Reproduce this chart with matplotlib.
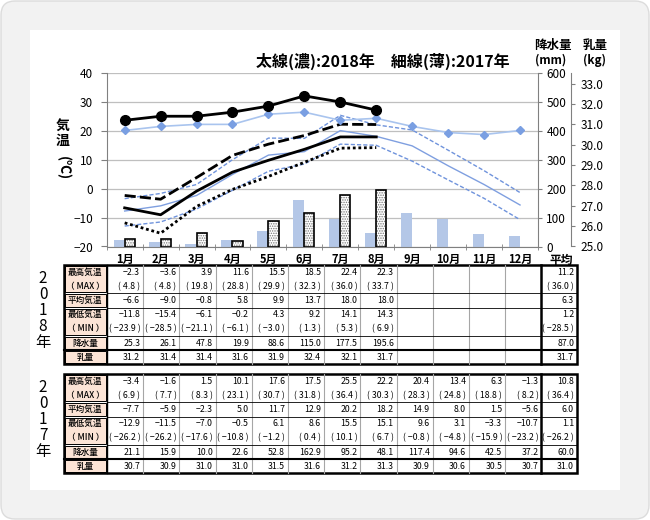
import numpy as np
import matplotlib
matplotlib.use("Agg")
import matplotlib.pyplot as plt
from matplotlib.patches import Rectangle, FancyBboxPatch

plt.rcParams['font.family'] = ['Noto Sans CJK JP', 'DejaVu Sans']
plt.rcParams['hatch.linewidth'] = 0.7

# ---- data ----
months = ["1月", "2月", "3月", "4月", "5月", "6月", "7月", "8月", "9月", "10月", "11月", "12月"]

# 2018 (Jan-Aug)
max18 = [-2.3, -3.6, 3.9, 11.6, 15.5, 18.5, 22.4, 22.3]
maxabs18 = [4.8, 4.8, 19.8, 28.8, 29.9, 32.3, 36.0, 33.7]
mean18 = [-6.6, -9.0, -0.8, 5.8, 9.9, 13.7, 18.0, 18.0]
min18 = [-11.8, -15.4, -6.1, -0.2, 4.3, 9.2, 14.1, 14.3]
minabs18 = [-23.9, -28.5, -21.1, -6.1, -3.0, 1.3, 5.3, 6.9]
prec18 = [25.3, 26.1, 47.8, 19.9, 88.6, 115.0, 177.5, 195.6]
milk18 = [31.2, 31.4, 31.4, 31.6, 31.9, 32.4, 32.1, 31.7]
avg18 = [11.2, 36.0, 6.3, 1.2, -28.5, 87.0, 31.7]

# 2017
max17 = [-3.4, -1.6, 1.5, 10.1, 17.6, 17.5, 25.5, 22.2, 20.4, 13.4, 6.3, -1.3]
maxabs17 = [6.9, 7.7, 8.3, 23.1, 30.7, 31.8, 36.4, 30.3, 28.3, 24.8, 18.8, 8.2]
mean17 = [-7.7, -5.9, -2.3, 5.0, 11.7, 12.9, 20.2, 18.2, 14.9, 8.0, 1.5, -5.6]
min17 = [-12.9, -11.5, -7.0, -0.5, 6.1, 8.6, 15.5, 15.1, 9.6, 3.1, -3.3, -10.7]
minabs17 = [-26.2, -26.2, -17.6, -10.8, -1.2, 0.4, 10.1, 6.7, -0.8, -4.8, -15.9, -23.2]
prec17 = [21.1, 15.9, 10.0, 22.6, 52.8, 162.9, 95.2, 48.1, 117.4, 94.6, 42.5, 37.2]
milk17 = [30.7, 30.9, 31.0, 31.0, 31.5, 31.6, 31.2, 31.3, 30.9, 30.6, 30.5, 30.7]
avg17 = [10.8, 36.4, 6.0, 1.1, -26.2, 60.0, 31.0]

row_labels = ["最高気温", "（ MAX ）", "平均気温", "最低気温", "（ MIN ）", "降水量", "乳量"]

W, H = 650, 520
fig = plt.figure(figsize=(6.5, 5.2), dpi=100)

# background / table layer in pixel coords
bg = fig.add_axes([0, 0, 1, 1], zorder=-5)
bg.set_xlim(0, W)
bg.set_ylim(H, 0)
bg.axis("off")
bg.add_patch(FancyBboxPatch((1, 1), W - 2, H - 2, boxstyle="round,pad=0,rounding_size=14",
                            fc="#f2f2f2", ec="#dcdcdc", lw=1))
bg.add_patch(Rectangle((30, 30), 590, 460, fc="white", ec="none"))

# ---- chart ----
L, R, T, B = 106.7, 538, 73.5, 246.5
axp = fig.add_axes([L / W, 1 - B / H, (R - L) / W, (B - T) / H])
axt = axp.twinx()
axm = axp.twinx()

x = np.arange(12)
x18 = np.arange(len(max18))
axp.bar(x - 0.16, prec17, width=0.3, color="#b4c7e7", zorder=2)
axp.bar(x18 + 0.14, prec18, width=0.28, facecolor="white", edgecolor="#777777",
        hatch=".......", lw=0, zorder=3)
axp.bar(x18 + 0.14, prec18, width=0.28, fill=False, edgecolor="black", lw=1.2, zorder=4)
axp.set_ylim(0, 600)
axp.set_xlim(-0.5, 11.5)
axp.set_yticks(range(0, 601, 100))
axp.yaxis.grid(True, color="#bfbfbf", lw=0.9, zorder=0)
axp.set_axisbelow(True)
axp.yaxis.tick_right()
axp.set_xticks(x, months, fontsize=8, fontweight="bold")
axp.set_xticks(np.arange(-0.5, 12, 1), minor=True)
axp.tick_params(axis="x", which="major", length=0, pad=5)
axp.tick_params(axis="x", which="minor", length=5, direction="inout", color="#808080")
axp.tick_params(axis="y", labelsize=8.5, length=3, color="#808080", pad=3)
for s in ["top", "left"]:
    axp.spines[s].set_visible(False)
for s in ["right", "bottom"]:
    axp.spines[s].set_color("#808080")

# temperature axis (left)
axt.plot(x, max17, color="#6f93dc", lw=1, ls=(0, (3, 1.5)))
axt.plot(x, mean17, color="#7f9fe0", lw=1)
axt.plot(x, min17, color="#6f93dc", lw=1, ls=(0, (3, 1.5)))
axt.plot(x18, max18, color="black", lw=2, ls=(0, (4, 1.5)))
axt.plot(x18, mean18, color="black", lw=2)
axt.plot(x18, min18, color="black", lw=2, ls=(0, (1, 1)))
axt.set_ylim(-20, 40)
axt.set_yticks(range(-20, 41, 10))
axt.yaxis.tick_left()
axt.tick_params(axis="y", labelsize=8.5, length=4, color="#808080", pad=6)
for s in ["top", "right", "bottom"]:
    axt.spines[s].set_visible(False)
axt.spines["left"].set_visible(True)
axt.spines["left"].set_color("#808080")

# milk axis (outer right)
axm.plot(x, milk17, color="#a9c4ee", lw=1.2, marker="D", ms=4.5, mfc="#7a9fe2", mec="#7a9fe2")
axm.plot(x18, milk18, color="black", lw=2, marker="o", ms=7)
axm.set_ylim(25, 33.5)
axm.set_yticks(np.arange(25, 33.1, 1.0))
axm.set_yticklabels([f"{v:.1f}" for v in np.arange(25, 33.1, 1.0)])
axm.spines["right"].set_position(("axes", 1.0766))
axm.spines["right"].set_color("#808080")
for s in ["top", "left", "bottom"]:
    axm.spines[s].set_visible(False)
axm.tick_params(axis="y", labelsize=8.5, length=3, color="#808080", pad=4)

# headers
bg.text(382.5, 61, "太線(濃):2018年　細線(薄):2017年", ha="center", va="center",
        fontsize=11.5, fontweight="bold")
bg.text(553, 45, "降水量", ha="center", va="center", fontsize=9, fontweight="bold")
bg.text(551, 60, "(mm)", ha="center", va="center", fontsize=8.5, fontweight="bold")
bg.text(595, 45, "乳量", ha="center", va="center", fontsize=9, fontweight="bold")
bg.text(595, 60, "(kg)", ha="center", va="center", fontsize=8.5, fontweight="bold")
bg.text(63, 133, "気\n温", ha="center", va="center", fontsize=10, fontweight="bold", linespacing=1.1)
bg.text(63, 168, "(℃)", ha="center", va="center", fontsize=10, fontweight="bold", rotation=-90)
bg.text(561, 260, "平均", ha="center", va="center", fontsize=8.5, fontweight="bold")

# ---- tables ----
LX0, LX1 = 63.5, 107
CW = 36.2
AX0 = LX1 + 12 * CW
AX1 = 577
RH = 14.2


def fmt(v, paren):
    s = f"{v:.1f}".replace("-", "−")
    return f"( {s} )" if paren else s


def draw_table(top, series, avgs, year):
    bottom = top + 7 * RH
    # label cells
    groups = [(0, 2), (2, 3), (3, 5), (5, 6), (6, 7)]
    for a, b in groups:
        bg.add_patch(Rectangle((LX0 + 1.5, top + a * RH + 1), LX1 - LX0 - 3, (b - a) * RH - 2,
                               fc="#fce4d6", ec="black", lw=0.7))
    for r, lab in enumerate(row_labels):
        bg.text((LX0 + LX1) / 2, top + (r + 0.5) * RH, lab, ha="center", va="center",
                fontsize=6.2, fontweight="medium")
    # grid lines
    for i in range(1, 12):
        bg.plot([LX1 + i * CW] * 2, [top, bottom], color="#a6a6a6", lw=0.8)
    for r in (2, 3, 5):
        bg.plot([LX1, AX1], [top + r * RH] * 2, color="black", lw=0.6)
    bg.plot([LX0, AX1], [top + 6 * RH] * 2, color="black", lw=1.5)
    bg.plot([LX1, LX1], [top, bottom], color="black", lw=1.0)
    bg.plot([AX0, AX0], [top, bottom], color="black", lw=1.8)
    bg.add_patch(Rectangle((LX0, top), AX1 - LX0, bottom - top, fc="none", ec="black", lw=1.8))
    # values
    parens = [False, True, False, False, True, False, False]
    for r, vals in enumerate(series):
        yc = top + (r + 0.5) * RH
        for i, v in enumerate(vals):
            bg.text(LX1 + (i + 1) * CW - 3, yc, fmt(v, parens[r]), ha="right", va="center",
                    fontsize=6.3)
        bg.text(AX1 - 3, yc, fmt(avgs[r], parens[r]), ha="right", va="center", fontsize=6.3)
    bg.text(43, (top + bottom) / 2 - 4, "\n".join(year), ha="center", va="center",
            fontsize=11, linespacing=0.92)


draw_table(265, [max18, maxabs18, mean18, min18, minabs18, prec18, milk18], avg18, "2018年")
draw_table(374, [max17, maxabs17, mean17, min17, minabs17, prec17, milk17], avg17, "2017年")

fig.savefig("out.png", dpi=100)
